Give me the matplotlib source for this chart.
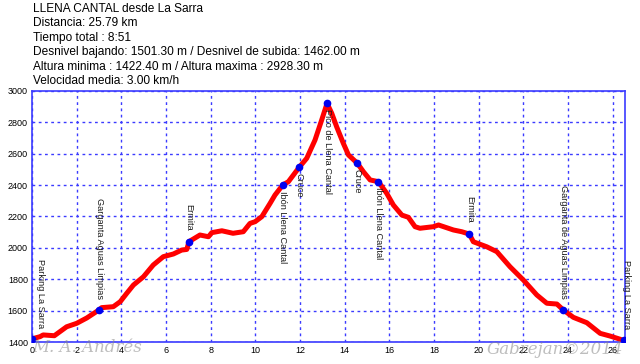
#--------------------------------------------------------------
#   perfil de elevación - Llena Cantal desde La Sarra
#--------------------------------------------------------------
import matplotlib
matplotlib.use("Agg")
import matplotlib.pyplot as plt

plt.rcParams['font.family'] = ['Liberation Sans', 'DejaVu Sans']

distancia = [0.0, 0.36, 0.5, 1.0, 1.55, 2.0, 2.45, 2.9, 3.0, 3.12, 3.64, 3.95, 4.24, 4.54,
             4.99, 5.43, 5.88, 6.33, 6.7, 6.93, 7.03, 7.52, 7.9, 8.05, 8.5, 9.0, 9.46,
             9.76, 9.99, 10.29, 10.66, 10.88, 11.23, 11.48, 11.96, 12.3, 12.67, 12.97,
             13.21, 13.42, 13.64, 13.94, 14.17, 14.57, 14.84, 15.14, 15.51, 15.88, 16.18,
             16.56, 16.85, 17.15, 17.37, 17.97, 18.2, 18.87, 19.24, 19.58, 19.76, 20.36,
             20.81, 21.4, 22.0, 22.6, 23.05, 23.5, 23.79, 24.24, 24.84, 25.44, 25.88, 26.5]
altura = [1420, 1434, 1445, 1440, 1497, 1519, 1553, 1595, 1604, 1619, 1625, 1657, 1710, 1763,
          1816, 1891, 1944, 1961, 1986, 1990, 2040, 2082, 2071, 2097, 2109, 2093, 2103,
          2156, 2167, 2199, 2284, 2337, 2401, 2422, 2513, 2571, 2687, 2815,
          2921, 2858, 2772, 2666, 2592, 2539, 2485, 2433, 2422, 2348, 2273,
          2209, 2195, 2135, 2125, 2135, 2146, 2114, 2103, 2088, 2039, 2007,
          1976, 1880, 1795, 1700, 1647, 1642, 1604, 1557, 1523, 1455, 1438, 1410]

# puntos de paso
wp_nombre = ["Parking La Sarra", "Garganta Aguas Limpias", "Ermita", "Ibón Llena Cantal",
             "Cruce", "Pico de Llena Cantal", "Cruce", "Ibón Llena Cantal", "Ermita",
             "Garganta de Aguas Limpias", "Parking La Sarra"]
wp_dist = [0.0, 3.0, 7.03, 11.23, 11.96, 13.21, 14.57, 15.51, 19.58, 23.79, 26.5]
wp_alt = [1420, 1604, 2040, 2401, 2513, 2921, 2539, 2422, 2088, 1604, 1410]
wp_arriba = [True, True, True, False, False, False, False, False, True, True, True]

cabecera = ["LLENA CANTAL desde La Sarra",
            "Distancia: 25.79 km",
            "Tiempo total : 8:51",
            "Desnivel bajando: 1501.30 m / Desnivel de subida: 1462.00 m",
            "Altura minima : 1422.40 m / Altura maxima : 2928.30 m",
            "Velocidad media: 3.00 km/h"]

azul = '#3b3bff'

fig = plt.figure(figsize=(6.4, 3.64), dpi=100)
ax = fig.add_axes([32/640, 22/364, 593/640, 251/364])

ax.plot(distancia, altura, color='red', lw=3.6, solid_joinstyle='round', solid_capstyle='round', zorder=3)
ax.plot(wp_dist, wp_alt, 'o', color='#0000ee', ms=4.5, zorder=4)

for nom, d, a, arriba in zip(wp_nombre, wp_dist, wp_alt, wp_arriba):
    dx = 0
    if d == 0.0:
        dx = 6
    elif d > 26:
        dx = 2
    ax.annotate(nom, (d, a), xytext=(dx, 8 if arriba else -4), textcoords='offset points',
                rotation=-90, ha='center', va='bottom' if arriba else 'top',
                fontsize=6.6, color='#1a1a1a', zorder=5, annotation_clip=False)

ax.set_xlim(0, 26.55)
ax.set_ylim(1400, 3000)
ax.set_xticks(range(0, 27, 2))
ax.set_yticks(range(1400, 3001, 200))
ax.grid(True, color=azul, linestyle=(0, (2, 2.5)), lw=1)
ax.tick_params(length=0, labelsize=6.5, pad=3)
for s in ax.spines.values():
    s.set_color(azul)
    s.set_linewidth(1.2)

for i, linea in enumerate(cabecera):
    fig.text(33/640, 1 - (8.5 + 14.5*i)/364, linea, fontsize=8.55, va='center', ha='left')

# marcas de agua
fig.text(32/640, 1 - 348/364, "M. A. Andrés", fontsize=12, family='DejaVu Serif',
         style='italic', color='#888888', alpha=0.55, va='center')
fig.text(487/640, 1 - 349/364, "Gabrejan©2014", fontsize=12, family='DejaVu Serif',
         style='italic', color='#888888', alpha=0.55, va='center')

plt.savefig("out.png", dpi=100)
